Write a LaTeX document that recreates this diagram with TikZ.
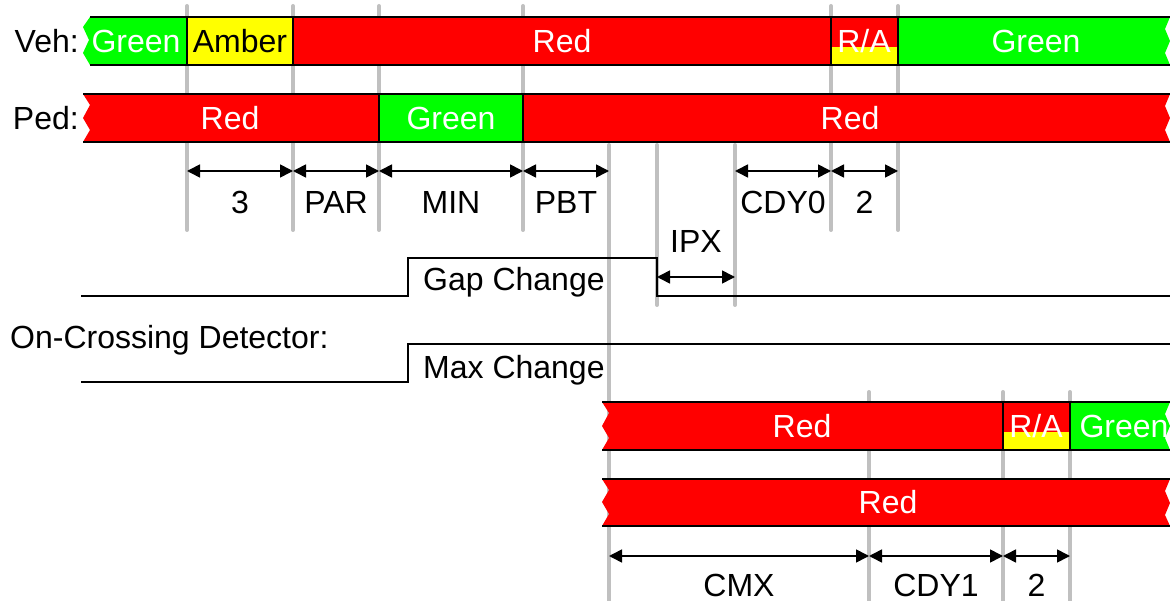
\documentclass[tikz,border=0pt]{standalone}
\usepackage{fontspec}
\setmainfont{Liberation Sans}
\usetikzlibrary{arrows.meta}
\definecolor{sigred}{RGB}{255,0,0}
\definecolor{siggreen}{RGB}{0,255,0}
\definecolor{sigamber}{RGB}{255,255,0}
\definecolor{markgray}{RGB}{192,192,192}
\begin{document}
\begin{tikzpicture}[x=1pt,y=-1pt,
		every node/.style={inner sep=0pt, text height=23pt, text depth=0pt, font=\fontsize{32}{36}\selectfont},
		timeline/.style={draw=markgray, line width=4pt, line cap=round},
		barline/.style={line width=2.4pt},
		signal/.style={line width=2pt},
		dim/.style={line width=1.6pt, {Triangle[length=13pt,width=13pt]}-{Triangle[length=13pt,width=13pt]}},
		dimlabel/.style={midway, yshift=-31pt},
		onlight/.style={text=white}]
	\useasboundingbox (0,0) rectangle (1170,601);
	% grey time marks
	\foreach \x in {187,293,379,523,831,898}
		\draw [timeline] (\x,6) -- (\x,230);
	\foreach \x in {657,735}
		\draw [timeline] (\x,145) -- (\x,305);
	\draw [timeline] (609,145) -- (609,604);
	\foreach \x in {869,1003,1070}
		\draw [timeline] (\x,392) -- (\x,604);
	% vehicle signal
	\fill [siggreen] (90,17) -- (187,17) -- (187,65) -- (90,65) -- (83,53) -- (89,40) -- (83,27) -- cycle;
	\fill [sigamber] (187,17) rectangle (293,65);
	\fill [sigred] (293,17) rectangle (831,65);
	\fill [sigred] (831,17) rectangle (898,47);
	\fill [sigamber] (831,47) rectangle (898,65);
	\fill [siggreen] (898,17) -- (1170,17) -- (1165,29) -- (1170,41) -- (1165,53) -- (1170,65) -- (898,65) -- cycle;
	\draw [barline] (90,17) -- (1170,17) (90,65) -- (1170,65);
	\foreach \x in {187,293,831,898}
		\draw [barline] (\x,17) -- (\x,65);
	\node [anchor=east] (vehlabel) at (79,41) {Veh:};
	\node [onlight] (veh1) at (136,41) {Green};
	\node (veh2) at (240,41) {Amber};
	\node [onlight] (veh3) at (562,41) {Red};
	\node [onlight] (veh4) at (864,41) {R/A};
	\node [onlight] (veh5) at (1036,41) {Green};
	% pedestrian signal
	\fill [sigred] (83,94) -- (379,94) -- (379,142) -- (83,142) -- (90,130) -- (83,118) -- (90,105) -- cycle;
	\fill [siggreen] (379,94) rectangle (523,142);
	\fill [sigred] (523,94) -- (1170,94) -- (1165,106) -- (1170,118) -- (1165,130) -- (1170,142) -- (523,142) -- cycle;
	\draw [barline] (83,94) -- (1170,94) (83,142) -- (1170,142);
	\foreach \x in {379,523}
		\draw [barline] (\x,94) -- (\x,142);
	\node [anchor=east] (pedlabel) at (79,118) {Ped:};
	\node [onlight] (ped1) at (230,118) {Red};
	\node [onlight] (ped2) at (451,118) {Green};
	\node [onlight] (ped3) at (850,118) {Red};
	% timings
	\foreach \n/\x in {a/187,b/293,c/379,d/523,e/609,f/735,g/831,h/898}
		\coordinate (u\n) at (\x,171);
	\draw [dim] (ua) -- (ub) node [dimlabel] (tthree) {3};
	\draw [dim] (ub) -- (uc) node [dimlabel] (tpar) {PAR};
	\draw [dim] (uc) -- (ud) node [dimlabel] (tmin) {MIN};
	\draw [dim] (ud) -- (ue) node [dimlabel] (tpbt) {PBT};
	\draw [dim] (uf) -- (ug) node [dimlabel] (tcdy) {CDY0};
	\draw [dim] (ug) -- (uh) node [dimlabel] (ttwo) {2};
	\coordinate (ipxa) at (657,277);
	\coordinate (ipxb) at (735,277);
	\draw [dim] (ipxa) -- (ipxb);
	\node (tipx) at (696,241) {IPX};
	% detector
	\draw [signal] (81,296) -- (408,296) -- (408,258) -- (657,258) -- (657,296) -- (1170,296);
	\node [anchor=west] (gapch) at (423,279) {Gap Change};
	\node [anchor=west] (detlabel) at (10,337) {On-Crossing Detector:};
	\draw [signal] (81,382) -- (408,382) -- (408,344) -- (1170,344);
	\node [anchor=west] (maxch) at (423,367) {Max Change};
	% second vehicle signal
	\fill [sigred] (602,402) -- (1003,402) -- (1003,450) -- (602,450) -- (609,438) -- (602,426) -- (609,413) -- cycle;
	\fill [sigred] (1003,402) rectangle (1070,432);
	\fill [sigamber] (1003,432) rectangle (1070,450);
	\fill [siggreen] (1070,402) -- (1170,402) -- (1165,414) -- (1170,426) -- (1165,438) -- (1170,450) -- (1070,450) -- cycle;
	\draw [barline] (602,402) -- (1170,402) (602,450) -- (1170,450);
	\foreach \x in {1003,1070}
		\draw [barline] (\x,402) -- (\x,450);
	\node [onlight] (veh6) at (802,426) {Red};
	\node [onlight] (veh7) at (1036,426) {R/A};
	\node [onlight] (veh8) at (1124,426) {Green};
	% second pedestrian signal
	\fill [sigred] (602,479) -- (1170,479) -- (1165,491) -- (1170,503) -- (1165,515) -- (1170,526) -- (602,526) -- (609,514) -- (602,502) -- (609,490) -- cycle;
	\draw [barline] (602,479) -- (1170,479) (602,526) -- (1170,526);
	\node [onlight] (ped4) at (888,502) {Red};
	% clearance timings
	\foreach \n/\x in {a/609,b/869,c/1003,d/1070}
		\coordinate (w\n) at (\x,556);
	\draw [dim] (wa) -- (wb) node [dimlabel, yshift=2pt] (tcmx) {CMX};
	\draw [dim] (wb) -- (wc) node [dimlabel, yshift=2pt] (tcdyb) {CDY1};
	\draw [dim] (wc) -- (wd) node [dimlabel, yshift=2pt] (ttwob) {2};
\end{tikzpicture}
\end{document}
